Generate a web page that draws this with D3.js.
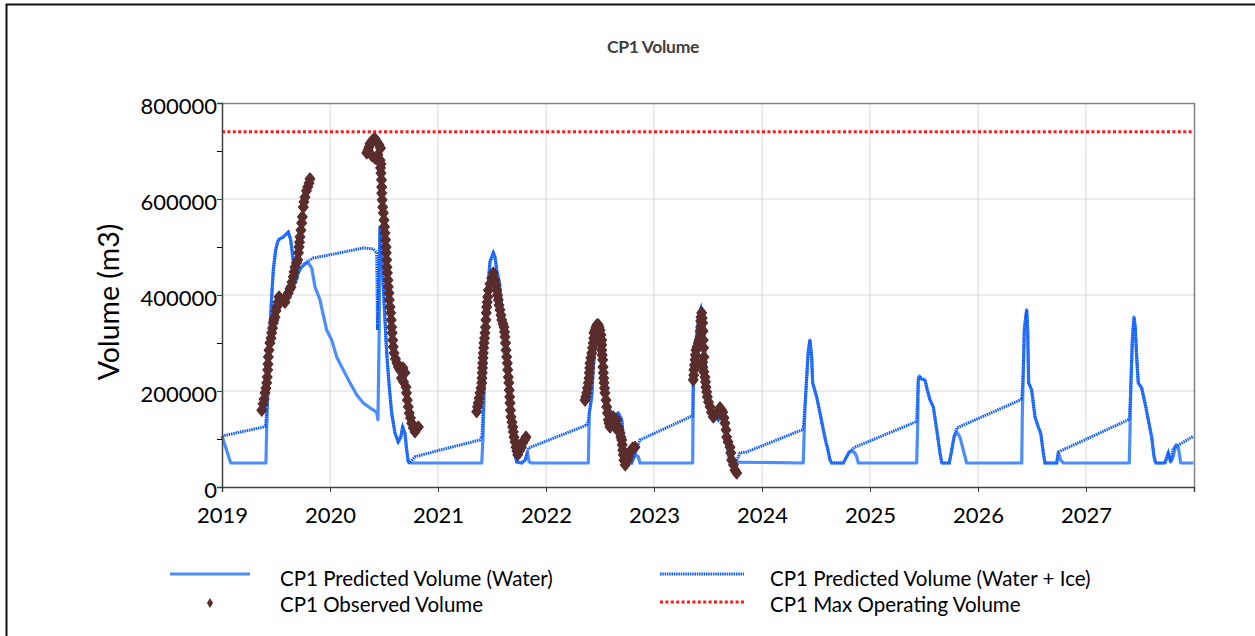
<!DOCTYPE html>
<html>
<head>
<meta charset="utf-8">
<script src="https://cdn.jsdelivr.net/npm/d3@7"></script>
<style>
  body { margin: 0; background: #fff; }
  svg { font-family: Lato, "Open Sans", sans-serif; }
</style>
</head>
<body>
<svg width="1255" height="636"></svg>
<script>
// years on the x axis, volumes in m3
var years = [2019, 2020, 2021, 2022, 2023, 2024, 2025, 2026, 2027];
var yTicks = [0, 200000, 400000, 600000, 800000];
var yMinor = [100000, 300000, 500000, 700000];
var maxOperating = 740000;

// CP1 Predicted Volume (Water)
var predictedWater = [
  [2019.000,106000],[2019.081,50000],[2019.407,50000],[2019.414,125000],[2019.423,188000],[2019.435,258000],[2019.444,327000],[2019.460,396000],[2019.475,452000],[2019.497,494000],[2019.521,515000],[2019.568,521000],[2019.614,531000],[2019.636,515000],[2019.651,488000],[2019.676,425000],[2019.706,446000],[2019.731,456000],[2019.769,465000],[2019.799,467000],[2019.831,456000],[2019.861,417000],[2019.907,390000],[2019.969,327000],[2020.016,306000],[2020.062,271000],[2020.123,244000],[2020.185,217000],[2020.247,192000],[2020.308,175000],[2020.370,165000],[2020.432,156000],[2020.444,140000],[2020.456,333000],[2020.463,542000],[2020.479,488000],[2020.494,417000],[2020.509,348000],[2020.525,279000],[2020.549,208000],[2020.571,154000],[2020.602,112000],[2020.632,94000],[2020.655,104000],[2020.673,125000],[2020.694,112000],[2020.710,77000],[2020.725,52000],[2020.741,50000],
  [2021.405,50000],[2021.417,104000],[2021.435,265000],[2021.454,390000],[2021.481,469000],[2021.512,488000],[2021.528,479000],[2021.544,452000],[2021.568,425000],[2021.590,375000],[2021.620,327000],[2021.651,265000],[2021.667,217000],[2021.682,167000],[2021.697,112000],[2021.713,71000],[2021.728,52000],[2021.775,50000],[2021.806,56000],[2021.827,71000],[2021.845,52000],[2021.868,50000],
  [2022.392,50000],[2022.401,154000],[2022.423,188000],[2022.438,250000],[2022.454,292000],[2022.469,306000],[2022.494,300000],[2022.506,279000],[2022.521,244000],[2022.546,196000],[2022.577,167000],[2022.608,154000],[2022.639,150000],[2022.669,154000],[2022.701,140000],[2022.716,104000],[2022.731,71000],[2022.747,52000],[2022.793,50000],[2022.824,67000],[2022.855,63000],[2022.870,50000],
  [2023.358,50000],[2023.364,217000],[2023.380,285000],[2023.401,327000],[2023.419,363000],[2023.435,373000],[2023.451,354000],[2023.463,321000],[2023.472,271000],[2023.488,217000],[2023.512,181000],[2023.549,154000],[2023.595,140000],[2023.627,160000],[2023.648,146000],[2023.667,112000],[2023.688,71000],[2023.704,52000],
  [2024.382,50000],[2024.398,167000],[2024.414,229000],[2024.429,285000],[2024.444,306000],[2024.460,271000],[2024.469,217000],[2024.506,188000],[2024.537,154000],[2024.568,119000],[2024.593,92000],[2024.605,83000],[2024.630,56000],[2024.645,50000],[2024.753,50000],[2024.784,63000],[2024.808,73000],[2024.831,75000],[2024.861,71000],[2024.877,63000],[2024.892,50000],
  [2025.432,50000],[2025.442,133000],[2025.447,223000],[2025.456,231000],[2025.479,225000],[2025.509,223000],[2025.531,202000],[2025.556,181000],[2025.586,167000],[2025.618,119000],[2025.648,71000],[2025.664,50000],[2025.734,50000],[2025.757,77000],[2025.778,104000],[2025.803,115000],[2025.833,104000],[2025.864,77000],[2025.895,50000],
  [2026.405,50000],[2026.410,146000],[2026.419,238000],[2026.429,327000],[2026.442,354000],[2026.451,369000],[2026.460,327000],[2026.469,217000],[2026.497,202000],[2026.528,146000],[2026.558,125000],[2026.581,112000],[2026.605,71000],[2026.620,50000],[2026.729,50000],[2026.744,71000],[2026.766,56000],[2026.790,50000],
  [2027.401,50000],[2027.407,112000],[2027.414,202000],[2027.429,306000],[2027.444,354000],[2027.456,333000],[2027.469,271000],[2027.484,217000],[2027.516,206000],[2027.546,175000],[2027.577,140000],[2027.608,104000],[2027.630,63000],[2027.645,50000],[2027.731,50000],[2027.762,71000],[2027.784,52000],[2027.808,63000],[2027.833,88000],[2027.855,83000],[2027.877,50000],[2027.995,50000]
];

// CP1 Predicted Volume (Water + Ice)
var predictedWaterIce = [
  [2019.000,106000],[2019.403,126000],[2019.423,188000],[2019.435,258000],[2019.444,327000],[2019.460,396000],[2019.475,452000],[2019.497,494000],[2019.521,515000],[2019.568,521000],[2019.614,531000],[2019.636,515000],[2019.651,488000],[2019.676,452000],[2019.692,431000],[2019.706,446000],[2019.731,458000],[2019.784,469000],[2019.845,477000],[2020.093,488000],[2020.308,498000],[2020.401,496000],[2020.432,488000],[2020.440,327000],[2020.463,542000],[2020.479,488000],[2020.494,417000],[2020.509,348000],[2020.525,279000],[2020.549,208000],[2020.571,154000],[2020.602,112000],[2020.632,94000],[2020.655,104000],[2020.673,125000],[2020.694,112000],[2020.710,77000],[2020.725,52000],[2020.741,50000],[2020.759,56000],[2020.787,63000],[2021.019,77000],[2021.389,98000],
  [2021.407,104000],[2021.435,265000],[2021.454,390000],[2021.481,469000],[2021.512,488000],[2021.528,479000],[2021.544,452000],[2021.568,425000],[2021.590,375000],[2021.620,327000],[2021.651,265000],[2021.667,217000],[2021.682,167000],[2021.697,112000],[2021.713,71000],[2021.728,52000],[2021.775,50000],[2021.806,56000],[2021.827,71000],[2021.836,81000],[2022.377,129000],
  [2022.392,138000],[2022.401,154000],[2022.423,188000],[2022.438,250000],[2022.454,292000],[2022.469,306000],[2022.494,300000],[2022.506,279000],[2022.521,244000],[2022.546,196000],[2022.577,167000],[2022.608,154000],[2022.639,150000],[2022.669,154000],[2022.701,140000],[2022.716,104000],[2022.731,71000],[2022.747,52000],[2022.793,50000],[2022.824,67000],[2022.843,83000],[2022.870,98000],[2023.333,146000],
  [2023.358,148000],[2023.364,217000],[2023.380,285000],[2023.401,327000],[2023.419,363000],[2023.435,373000],[2023.451,354000],[2023.463,321000],[2023.472,271000],[2023.488,217000],[2023.512,181000],[2023.549,154000],[2023.595,140000],[2023.627,160000],[2023.648,146000],[2023.667,112000],[2023.688,71000],[2023.704,52000],[2023.759,52000],[2023.796,71000],[2023.858,73000],[2024.370,119000],
  [2024.382,123000],[2024.398,167000],[2024.414,229000],[2024.429,285000],[2024.444,306000],[2024.460,271000],[2024.469,217000],[2024.506,188000],[2024.537,154000],[2024.568,119000],[2024.593,92000],[2024.605,83000],[2024.630,56000],[2024.645,50000],[2024.753,50000],[2024.784,63000],[2024.808,73000],[2024.861,83000],[2025.417,135000],
  [2025.432,138000],[2025.447,223000],[2025.456,231000],[2025.479,225000],[2025.509,223000],[2025.531,202000],[2025.556,181000],[2025.586,167000],[2025.618,119000],[2025.648,71000],[2025.664,50000],[2025.734,50000],[2025.757,77000],[2025.778,104000],[2025.803,123000],[2026.389,181000],
  [2026.405,183000],[2026.419,238000],[2026.429,327000],[2026.442,354000],[2026.451,369000],[2026.460,327000],[2026.469,217000],[2026.497,202000],[2026.528,146000],[2026.558,125000],[2026.581,112000],[2026.605,71000],[2026.620,50000],[2026.729,50000],[2026.744,73000],[2027.392,140000],
  [2027.401,142000],[2027.414,202000],[2027.429,306000],[2027.444,354000],[2027.456,333000],[2027.469,271000],[2027.484,217000],[2027.516,206000],[2027.546,175000],[2027.577,140000],[2027.608,104000],[2027.630,63000],[2027.645,50000],[2027.731,50000],[2027.762,71000],[2027.784,52000],[2027.808,81000],[2027.995,106000]
];

// CP1 Observed Volume
var observed = [
  [2019.368,160000],[2019.380,173000],[2019.389,183000],[2019.398,196000],[2019.407,206000],[2019.414,217000],[2019.419,229000],[2019.423,244000],[2019.426,256000],[2019.429,271000],[2019.435,285000],[2019.444,300000],[2019.454,310000],[2019.460,321000],[2019.468,331000],[2019.475,342000],[2019.481,348000],[2019.491,354000],[2019.500,367000],[2019.506,375000],[2019.519,385000],[2019.528,396000],[2019.542,392000],[2019.553,390000],[2019.569,388000],[2019.583,385000],[2019.597,396000],[2019.614,404000],[2019.630,413000],[2019.639,417000],[2019.648,427000],[2019.660,438000],[2019.667,448000],[2019.676,458000],[2019.690,467000],[2019.701,473000],[2019.708,488000],[2019.713,500000],[2019.718,510000],[2019.722,521000],[2019.731,535000],[2019.738,550000],[2019.744,563000],[2019.753,583000],[2019.759,594000],[2019.769,604000],[2019.782,617000],[2019.794,625000],[2019.806,633000],[2019.815,642000],
  [2020.340,696000],[2020.352,702000],[2020.361,708000],[2020.370,715000],[2020.389,721000],[2020.407,725000],[2020.417,725000],[2020.435,719000],[2020.454,713000],[2020.468,706000],[2020.389,690000],[2020.417,685000],[2020.444,692000],[2020.463,681000],[2020.472,673000],[2020.468,665000],[2020.472,654000],[2020.477,640000],[2020.479,625000],[2020.479,612000],[2020.483,598000],[2020.488,583000],[2020.494,571000],[2020.500,556000],[2020.505,542000],[2020.509,529000],[2020.514,515000],[2020.519,500000],[2020.521,488000],[2020.525,473000],[2020.528,458000],[2020.531,446000],[2020.537,431000],[2020.540,417000],[2020.546,404000],[2020.549,390000],[2020.556,375000],[2020.562,363000],[2020.567,348000],[2020.571,333000],[2020.576,321000],[2020.581,306000],[2020.586,292000],[2020.593,279000],[2020.606,267000],[2020.620,258000],[2020.634,250000],[2020.648,244000],[2020.662,246000],[2020.676,248000],[2020.694,238000],[2020.662,227000],[2020.681,219000],[2020.704,208000],[2020.708,196000],[2020.716,181000],[2020.725,167000],[2020.734,154000],[2020.745,144000],[2020.756,133000],[2020.771,123000],[2020.787,115000],[2020.803,121000],[2020.818,125000],
  [2021.358,157000],[2021.366,167000],[2021.373,175000],[2021.380,185000],[2021.389,196000],[2021.398,206000],[2021.405,217000],[2021.407,227000],[2021.410,238000],[2021.412,248000],[2021.414,258000],[2021.417,269000],[2021.419,279000],[2021.423,290000],[2021.426,300000],[2021.431,310000],[2021.435,321000],[2021.440,333000],[2021.444,348000],[2021.447,363000],[2021.451,375000],[2021.456,385000],[2021.460,396000],[2021.466,410000],[2021.481,423000],[2021.497,435000],[2021.512,446000],[2021.528,431000],[2021.537,421000],[2021.544,410000],[2021.551,400000],[2021.558,390000],[2021.565,379000],[2021.574,369000],[2021.583,358000],[2021.590,348000],[2021.602,340000],[2021.611,333000],[2021.616,323000],[2021.620,313000],[2021.625,300000],[2021.630,285000],[2021.636,271000],[2021.642,258000],[2021.646,244000],[2021.651,229000],[2021.656,217000],[2021.660,202000],[2021.664,188000],[2021.667,175000],[2021.671,160000],[2021.676,146000],[2021.685,135000],[2021.692,125000],[2021.697,115000],[2021.704,104000],[2021.713,94000],[2021.722,83000],[2021.731,75000],[2021.738,67000],[2021.759,77000],[2021.773,83000],[2021.784,92000],[2021.801,98000],[2021.815,104000],
  [2022.361,181000],[2022.369,188000],[2022.377,196000],[2022.384,206000],[2022.392,217000],[2022.398,227000],[2022.401,238000],[2022.405,248000],[2022.407,258000],[2022.415,269000],[2022.423,279000],[2022.431,290000],[2022.438,300000],[2022.442,310000],[2022.444,321000],[2022.454,327000],[2022.463,333000],[2022.472,338000],[2022.484,338000],[2022.491,333000],[2022.500,327000],[2022.509,317000],[2022.516,306000],[2022.516,296000],[2022.516,285000],[2022.520,275000],[2022.525,265000],[2022.528,250000],[2022.531,238000],[2022.534,227000],[2022.537,217000],[2022.542,206000],[2022.546,196000],[2022.556,181000],[2022.562,167000],[2022.569,154000],[2022.577,140000],[2022.583,133000],[2022.593,125000],[2022.608,135000],[2022.623,146000],[2022.630,135000],[2022.639,125000],[2022.655,140000],[2022.669,125000],[2022.676,119000],[2022.685,112000],[2022.694,104000],[2022.701,98000],[2022.706,88000],[2022.710,77000],[2022.716,67000],[2022.722,56000],[2022.734,46000],[2022.753,56000],[2022.764,63000],[2022.778,71000],[2022.792,77000],[2022.803,81000],[2022.824,83000],
  [2023.364,223000],[2023.368,233000],[2023.370,244000],[2023.375,254000],[2023.380,265000],[2023.384,275000],[2023.389,285000],[2023.398,292000],[2023.410,300000],[2023.417,306000],[2023.426,313000],[2023.429,325000],[2023.432,333000],[2023.433,346000],[2023.435,354000],[2023.442,363000],[2023.446,352000],[2023.451,342000],[2023.454,325000],[2023.456,306000],[2023.460,290000],[2023.463,271000],[2023.451,260000],[2023.451,250000],[2023.461,240000],[2023.472,229000],[2023.477,219000],[2023.481,208000],[2023.488,198000],[2023.494,188000],[2023.505,177000],[2023.519,167000],[2023.532,156000],[2023.549,146000],[2023.565,150000],[2023.580,154000],[2023.597,158000],[2023.611,165000],[2023.625,160000],[2023.636,156000],[2023.648,144000],[2023.657,133000],[2023.667,119000],[2023.673,104000],[2023.685,94000],[2023.704,83000],[2023.711,71000],[2023.719,56000],[2023.736,46000],[2023.750,35000],[2023.766,29000]
];

var svg = d3.select("svg"),
    width = +svg.attr("width"),
    height = +svg.attr("height");

var margin = {top: 103, right: 61, bottom: 149, left: 222};
var plotW = width - margin.left - margin.right,
    plotH = height - margin.top - margin.bottom;

var waterColor = "#4b8dfb",
    iceColor = "#0f5cff",
    obsColor = "#5a2d2d",
    maxColor = "#ff1a1a";

svg.append("rect").attr("width", width).attr("height", height).attr("fill", "#fff");

// outer frame (only the top and left edges are in the picture)
svg.append("path")
    .attr("d", "M6.5,636 V4.5 H1255")
    .attr("fill", "none")
    .attr("stroke", "#111")
    .attr("stroke-width", 2);

svg.append("text")
    .attr("x", 653)
    .attr("y", 53)
    .attr("text-anchor", "middle")
    .attr("font-weight", "bold")
    .attr("font-size", 17.5)
    .attr("letter-spacing", -0.3)
    .attr("fill", "#404040")
    .text("CP1 Volume");

var x = d3.scaleLinear().domain([2019, 2028]).range([0, plotW]);
var y = d3.scaleLinear().domain([0, 800000]).range([plotH, 0]);

var g = svg.append("g").attr("transform", "translate(" + margin.left + "," + margin.top + ")");

// gridlines
g.append("g")
  .selectAll("line")
  .data(years.slice(1))
  .enter().append("line")
    .attr("x1", function(d) { return x(d); })
    .attr("x2", function(d) { return x(d); })
    .attr("y1", 0).attr("y2", plotH)
    .attr("stroke", "#d9d9d9").attr("stroke-width", 1);

g.append("g")
  .selectAll("line")
  .data([200000, 400000, 600000])
  .enter().append("line")
    .attr("x1", 0).attr("x2", plotW)
    .attr("y1", function(d) { return y(d); })
    .attr("y2", function(d) { return y(d); })
    .attr("stroke", "#d9d9d9").attr("stroke-width", 1);

// top and right frame of the plot
g.append("path")
    .attr("d", "M0,0.5 H" + (plotW + 0.5) + " V" + plotH)
    .attr("fill", "none")
    .attr("stroke", "#858585")
    .attr("stroke-width", 1.5);

var line = d3.line()
    .x(function(d) { return x(d[0]); })
    .y(function(d) { return y(d[1]); });

g.append("path")
    .datum(predictedWater)
    .attr("d", line)
    .attr("fill", "none")
    .attr("stroke", waterColor)
    .attr("stroke-width", 3.2)
    .attr("stroke-linejoin", "round");

g.append("path")
    .datum(predictedWaterIce)
    .attr("d", line)
    .attr("fill", "none")
    .attr("stroke", iceColor)
    .attr("stroke-width", 3)
    .attr("stroke-dasharray", "1.5,0.8");

// excel-like diamond marker, a bit taller than wide
var diamondShape = {
  draw: function(ctx, size) {
    var h = Math.sqrt(size) * 0.62, w = h * 0.82;
    ctx.moveTo(0, -h); ctx.lineTo(w, 0); ctx.lineTo(0, h); ctx.lineTo(-w, 0); ctx.closePath();
  }
};

g.append("g")
  .selectAll("path")
  .data(observed)
  .enter().append("path")
    .attr("d", d3.symbol().type(diamondShape).size(90))
    .attr("transform", function(d) { return "translate(" + x(d[0]) + "," + y(d[1]) + ")"; })
    .attr("fill", obsColor)
    .attr("stroke", obsColor)
    .attr("stroke-width", 1.2)
    .attr("stroke-linejoin", "round");

g.append("line")
    .attr("x1", 0).attr("x2", plotW)
    .attr("y1", y(maxOperating)).attr("y2", y(maxOperating))
    .attr("stroke", maxColor)
    .attr("stroke-width", 3)
    .attr("stroke-dasharray", "3,2.4");

// axes
var xAxis = g.append("g")
    .attr("transform", "translate(0," + plotH + ")")
    .call(d3.axisBottom(x).tickValues(years).tickFormat(d3.format("d")).tickSize(5).tickPadding(15));

var yAxis = g.append("g")
    .call(d3.axisLeft(y).tickValues(yTicks).tickFormat(d3.format("d")).tickSize(5).tickPadding(0));

g.append("g")
    .call(d3.axisLeft(y).tickValues(yMinor).tickFormat("").tickSize(5))
    .select(".domain").remove();

[xAxis, yAxis].forEach(function(a) {
  a.select(".domain").attr("stroke", "#404040").attr("stroke-width", 1.5);
  a.selectAll(".tick line").attr("stroke", "#404040");
  a.selectAll(".tick text")
      .attr("font-size", 22)
      .attr("font-family", "Lato, sans-serif")
      .attr("fill", "#000");
});
yAxis.selectAll(".tick text").attr("dy", "0.48em");

svg.append("text")
    .attr("transform", "translate(119,302) rotate(-90)")
    .attr("text-anchor", "middle")
    .attr("font-size", 28.5)
    .attr("fill", "#000")
    .text("Volume (m3)");

// legend
var legend = svg.append("g").attr("font-size", 20.5).attr("fill", "#000");

legend.append("line")
    .attr("x1", 170).attr("x2", 250).attr("y1", 574).attr("y2", 574)
    .attr("stroke", waterColor).attr("stroke-width", 3.2);
legend.append("text").attr("x", 280).attr("y", 586).text("CP1 Predicted Volume (Water)");

legend.append("path")
    .attr("d", d3.symbol().type(diamondShape).size(64))
    .attr("transform", "translate(210,603) scale(0.75,1)")
    .attr("fill", obsColor);
legend.append("text").attr("x", 280).attr("y", 612).text("CP1 Observed Volume");

legend.append("line")
    .attr("x1", 660).attr("x2", 744).attr("y1", 574).attr("y2", 574)
    .attr("stroke", iceColor).attr("stroke-width", 3).attr("stroke-dasharray", "1.5,0.8");
legend.append("text").attr("x", 770).attr("y", 586).text("CP1 Predicted Volume (Water + Ice)");

legend.append("line")
    .attr("x1", 660).attr("x2", 744).attr("y1", 602).attr("y2", 602)
    .attr("stroke", maxColor).attr("stroke-width", 3).attr("stroke-dasharray", "3,2.4");
legend.append("text").attr("x", 770).attr("y", 612).text("CP1 Max Operating Volume");
</script>
</body>
</html>
